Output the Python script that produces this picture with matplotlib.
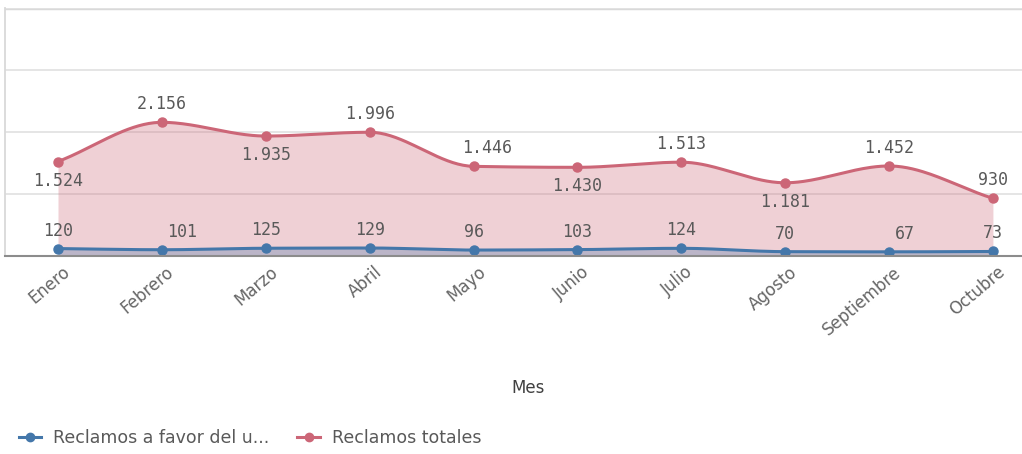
import numpy as np
import matplotlib.pyplot as plt
from matplotlib.lines import Line2D
import matplotlib.transforms as mtransforms

meses = ["Enero", "Febrero", "Marzo", "Abril", "Mayo", "Junio",
         "Julio", "Agosto", "Septiembre", "Octubre"]
favor = [120, 101, 125, 129, 96, 103, 124, 70, 67, 73]
totales = [1524, 2156, 1935, 1996, 1446, 1430, 1513, 1181, 1452, 930]

# label placement for the totals series: True = above point
totales_arriba = [False, True, False, True, True, False, True, False, True, True]

azul = "#4477aa"
rosa = "#cc6677"
gris = "#595959"


def monotone(x, y, n=40):
    # monotone cubic (Fritsch-Carlson) just for drawing a smooth path
    x = np.asarray(x, float)
    y = np.asarray(y, float)
    h = np.diff(x)
    d = np.diff(y) / h
    m = np.zeros_like(y)
    m[0], m[-1] = d[0], d[-1]
    for k in range(1, len(y) - 1):
        if d[k - 1] * d[k] <= 0:
            m[k] = 0
        else:
            w1 = 2 * h[k] + h[k - 1]
            w2 = h[k] + 2 * h[k - 1]
            m[k] = (w1 + w2) / (w1 / d[k - 1] + w2 / d[k])
    xs, ys = [], []
    for k in range(len(x) - 1):
        t = np.linspace(0, 1, n, endpoint=False)
        h00 = 2 * t**3 - 3 * t**2 + 1
        h10 = t**3 - 2 * t**2 + t
        h01 = -2 * t**3 + 3 * t**2
        h11 = t**3 - t**2
        xs.append(x[k] + t * h[k])
        ys.append(h00 * y[k] + h10 * h[k] * m[k] + h01 * y[k + 1] + h11 * h[k] * m[k + 1])
    xs.append([x[-1]])
    ys.append([y[-1]])
    return np.concatenate(xs), np.concatenate(ys)


fig = plt.figure(figsize=(10.22, 4.54), dpi=100)
ax = fig.add_axes([5 / 1022, 198 / 454, 1017 / 1022, 248 / 454])

x = np.arange(len(meses))

xt, yt = monotone(x, totales)
xf, yf = monotone(x, favor)

ax.fill_between(xt, yt, 0, color=rosa, alpha=0.3, lw=0, zorder=2)
ax.fill_between(xf, yf, 0, color=azul, alpha=0.3, lw=0, zorder=3)
ax.plot(xt, yt, color=rosa, lw=2.2, zorder=4)
ax.plot(xf, yf, color=azul, lw=2.2, zorder=5)
ax.plot(x, totales, "o", color=rosa, ms=6.5, zorder=6)
ax.plot(x, favor, "o", color=azul, ms=6.5, zorder=7)


def fmt(v):
    return f"{v:,}".replace(",", ".")


dx_tot = {4: 14}
for i, v in enumerate(totales):
    off = 9 if totales_arriba[i] else -10
    va = "bottom" if totales_arriba[i] else "top"
    ax.annotate(fmt(v), (x[i], v), xytext=(dx_tot.get(i, 0), off), textcoords="offset pixels",
                ha="center", va=va, fontsize=12, family="DejaVu Sans Mono",
                color=gris, zorder=8)

dx_fav = {1: 20, 8: 16}
for i, v in enumerate(favor):
    ax.annotate(fmt(v), (x[i], v), xytext=(dx_fav.get(i, 0), 9), textcoords="offset pixels",
                ha="center", va="bottom", fontsize=12, family="DejaVu Sans Mono",
                color=gris, zorder=8)

ax.set_xlim(-0.51, 9.28)
ax.set_ylim(0, 4000)
ax.set_yticks([0, 1000, 2000, 3000, 4000])
ax.set_yticklabels([])
ax.tick_params(axis="y", length=0)
ax.grid(axis="y", color="#e3e3e3", lw=1.3, zorder=0)
ax.axhline(4000, color="#d9d9d9", lw=2.5, zorder=1)

for s in ["top", "right"]:
    ax.spines[s].set_visible(False)
ax.spines["left"].set_color("#d9d9d9")
ax.spines["left"].set_linewidth(1.3)
ax.spines["bottom"].set_color("#8c8c8c")
ax.spines["bottom"].set_linewidth(1.5)
ax.spines["bottom"].set_zorder(9)

ax.set_xticks(x)
ax.set_xticklabels(meses, rotation=40, ha="right", va="top", rotation_mode="anchor",
                   fontsize=12, color="#666666")
ax.tick_params(axis="x", length=0, pad=5)
shift = mtransforms.ScaledTranslation(4 / 100, 0, fig.dpi_scale_trans)
for lab in ax.get_xticklabels():
    lab.set_transform(lab.get_transform() + shift)

fig.text(528 / 1022, (454 - 388) / 454, "Mes", ha="center", va="center",
         fontsize=12, color="#404040")

handles = [Line2D([0], [0], color=azul, lw=2.2, marker="o", ms=6),
           Line2D([0], [0], color=rosa, lw=2.2, marker="o", ms=6)]
fig.legend(handles, ["Reclamos a favor del u...", "Reclamos totales"],
           loc="center left", bbox_to_anchor=(0.003, 16 / 454), ncol=2, frameon=False,
           handlelength=1.3, columnspacing=1.6, handletextpad=0.7,
           fontsize=12.5, labelcolor=gris)

plt.savefig("out.png", dpi=100)
